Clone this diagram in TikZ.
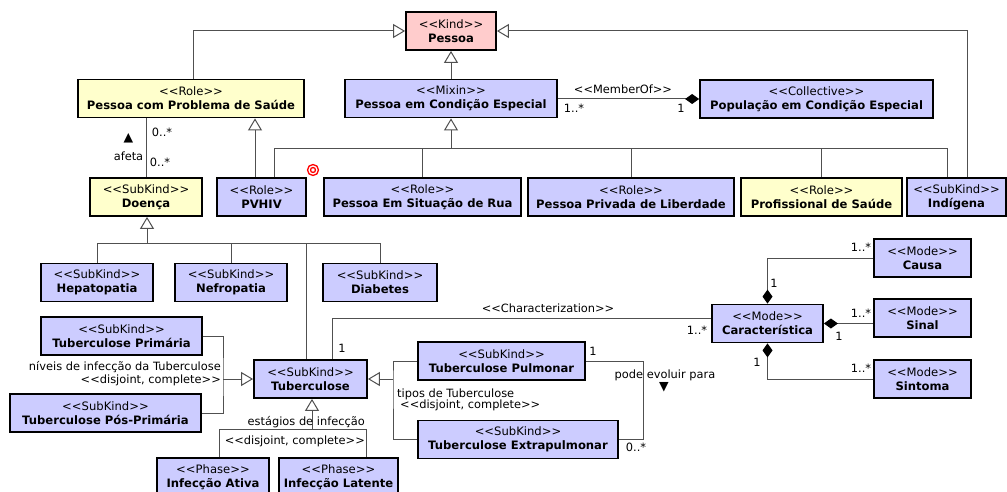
\documentclass[tikz,border=0pt]{standalone}
\usepackage{fontspec}
\setmainfont{DejaVu Sans}
\usetikzlibrary{arrows.meta}
\definecolor{kindpink}{RGB}{255,204,204}
\definecolor{roleyellow}{RGB}{255,255,204}
\definecolor{ufoblue}{RGB}{204,204,255}
\definecolor{linegray}{RGB}{80,80,80}
\newcommand{\stereo}[1]{<{}<#1>{}>}
\newcommand{\boxfont}{\fontsize{11.6}{14}\selectfont}
\newcommand{\lblfont}{\fontsize{11.4}{13}\selectfont}
\tikzset{
  umlbox/.style={draw, line width=1.8pt, align=center, inner sep=0pt,
    minimum height=38pt, font=\boxfont},
  kind/.style={umlbox, fill=kindpink},
  role/.style={umlbox, fill=roleyellow},
  ufo/.style={umlbox, fill=ufoblue},
  assoc/.style={draw=linegray, line width=1pt},
  gen/.style={assoc, -{Triangle[open, length=12pt, width=14pt]}},
  whole/.style={assoc, {Diamond[length=14pt, width=10pt, color=black, fill=black]}-},
  lbl/.style={inner sep=0pt, font=\lblfont},
}

\begin{document}
\begin{tikzpicture}[x=1pt, y=-1pt]
\useasboundingbox (0,0) rectangle (1007,492);
% Pessoa
\node[kind, minimum width=90pt] (pessoa) at (451,31) {\stereo{Kind}\\\textbf{Pessoa}};
% Roles / mixin / collective
\node[role, minimum width=226pt] (saude) at (191,98.5) {\stereo{Role}\\\textbf{Pessoa com Problema de Saúde}};
\node[ufo, minimum width=212pt] (mixin) at (451,98.5) {\stereo{Mixin}\\\textbf{Pessoa em Condição Especial}};
\node[ufo, minimum width=233pt] (colet) at (816.5,99) {\stereo{Collective}\\\textbf{População em Condição Especial}};
% Second row
\node[role, minimum width=112pt] (doenca) at (146,197) {\stereo{SubKind}\\\textbf{Doença}};
\node[ufo, minimum width=89pt] (pvhiv) at (261.5,197) {\stereo{Role}\\\textbf{PVHIV}};
\node[ufo, minimum width=197pt] (rua) at (422.5,197) {\stereo{Role}\\\textbf{Pessoa Em Situação de Rua}};
\node[ufo, minimum width=206pt] (privada) at (631,197) {\stereo{Role}\\\textbf{Pessoa Privada de Liberdade}};
\node[role, minimum width=161pt] (profis) at (821.5,197) {\stereo{Role}\\\textbf{Profissional de Saúde}};
\node[ufo, minimum width=99pt] (indigena) at (956.5,197) {\stereo{SubKind}\\\textbf{Indígena}};
% Doencas
\node[ufo, minimum width=112pt] (hepato) at (97,282.5) {\stereo{SubKind}\\\textbf{Hepatopatia}};
\node[ufo, minimum width=112pt] (nefro) at (231,282.5) {\stereo{SubKind}\\\textbf{Nefropatia}};
\node[ufo, minimum width=114pt] (diab) at (380,282.5) {\stereo{SubKind}\\\textbf{Diabetes}};
% Tuberculose
\node[ufo, minimum width=113pt] (tb) at (310.5,379) {\stereo{SubKind}\\\textbf{Tuberculose}};
\node[ufo, minimum width=161pt] (tbprim) at (121.5,336) {\stereo{SubKind}\\\textbf{Tuberculose Primária}};
\node[ufo, minimum width=191pt] (tbpos) at (105.5,413) {\stereo{SubKind}\\\textbf{Tuberculose Pós-Primária}};
\node[ufo, minimum width=167pt] (pulm) at (501.5,361) {\stereo{SubKind}\\\textbf{Tuberculose Pulmonar}};
\node[ufo, minimum width=200pt] (extra) at (518,439.5) {\stereo{SubKind}\\\textbf{Tuberculose Extrapulmonar}};
\node[ufo, minimum width=112pt] (ativa) at (213,477) {\stereo{Phase}\\\textbf{Infecção Ativa}};
\node[ufo, minimum width=119pt] (latente) at (338.5,477) {\stereo{Phase}\\\textbf{Infecção Latente}};
% Modes
\node[ufo, minimum width=111pt] (carac) at (767.5,323.5) {\stereo{Mode}\\\textbf{Característica}};
\node[ufo, minimum width=97pt] (causa) at (922.5,258) {\stereo{Mode}\\\textbf{Causa}};
\node[ufo, minimum width=97pt] (sinal) at (922.5,318) {\stereo{Mode}\\\textbf{Sinal}};
\node[ufo, minimum width=97pt] (sintoma) at (922.5,379) {\stereo{Mode}\\\textbf{Sintoma}};

% Generalizations to Pessoa
\draw[gen] (193,0 |- saude.north) |- (pessoa.west);
\draw[gen] (967,0 |- indigena.north) |- (pessoa.east);
\draw[gen] (mixin.north) -- (pessoa.south);
\draw[gen] (255,0 |- pvhiv.north) -- (255,0 |- saude.south);
% Mixin set
\coordinate (mixbus) at (451,149);
\draw[gen] (mixbus) -- (mixin.south);
\draw[assoc] (274,0 |- pvhiv.north) |- (947,149) -- (947,0 |- indigena.north);
\draw[assoc] (rua.north) -- (rua.north |- mixbus);
\draw[assoc] (privada.north) -- (privada.north |- mixbus);
\draw[assoc] (profis.north) -- (profis.north |- mixbus);
% MemberOf
\draw[whole] (colet.west) -- (colet.west -| mixin.east);
\node[lbl] (memberof) at (623,89) {\stereo{MemberOf}};
\node[lbl] (memmin) at (574,108) {1..*};
\node[lbl] (memone) at (681,108) {1};
% afeta
\draw[assoc] (doenca.north) -- (doenca.north |- saude.south);
\node[lbl] (afmin1) at (162,132) {0..*};
\node[lbl] (afmin2) at (160,162) {0..*};
\node[lbl] (afeta) at (128.5,156) {afeta};
\node[lbl, font=\fontsize{12.5}{14}\selectfont] (afup) at (128.5,138) {▲};
% validation mark
\draw[red, line width=1.3pt] (313,170) circle (5.5pt) circle (2.5pt);
% Doenca set
\coordinate (doebus) at (147,243);
\draw[gen] (doebus) -- (doebus |- doenca.south);
\draw[assoc] (hepato.north) |- (diab.north |- doebus) -- (diab.north);
\draw[assoc] (nefro.north) -- (nefro.north |- doebus);
\draw[assoc] (306,0 |- tb.north) -- (306,0 |- doebus);
% niveis
\coordinate (nivbus) at (223,379);
\draw[gen] (nivbus) -- (tb.west);
\draw[assoc] (tbprim.east) -| (nivbus) |- (tbpos.east);
\node[lbl, anchor=east, align=right] (niveis) at (221,374) {níveis de infecção da Tuberculose\\\stereo{disjoint, complete}};
% tipos
\coordinate (tipbus) at (393,379);
\draw[gen] (tipbus) -- (tb.east);
\draw[assoc] (pulm.west) -| (tipbus) |- (extra.west);
\node[lbl, anchor=west, align=left] (tipos) at (397,400) {tipos de Tuberculose\\[-2pt]\hspace{3pt}\stereo{disjoint, complete}};
% estagios
\coordinate (estbus) at (312,429);
\draw[gen] (estbus) -- (estbus |- tb.south);
\draw[assoc] (219,0 |- ativa.north) |- (366,429) -- (366,0 |- latente.north);
\node[lbl, anchor=east, align=right] (estagios) at (365,432) {estágios de infecção\\[6pt]\stereo{disjoint, complete}};
% pode evoluir para
\draw[assoc] (pulm.east) -| (643,0 |- extra.east) -- (extra.east);
\node[lbl] (evone) at (593,351) {1};
\node[lbl] (evmany) at (636,447) {0..*};
\node[lbl] (evoluir) at (665,375) {pode evoluir para};
\node[lbl, font=\fontsize{12.5}{14}\selectfont] (evdown) at (664,387) {▼};
% Characterization
\draw[assoc] (332,0 |- tb.north) |- ([yshift=5.5pt]carac.west);
\node[lbl] (charac) at (548,308) {\stereo{Characterization}};
\node[lbl] (chone) at (342,348) {1};
\node[lbl] (chmany) at (697,330) {1..*};
% Modes parts
\draw[whole] (carac.north) |- (causa.west);
\draw[whole] (carac.east) -- (carac.east -| sinal.west);
\draw[whole] (carac.south) |- (sintoma.west);
\node[lbl] (causamany) at (861,247) {1..*};
\node[lbl] (causaone) at (774,283) {1};
\node[lbl] (sinalmany) at (861,313) {1..*};
\node[lbl] (sinalone) at (839,336) {1};
\node[lbl] (sintone) at (757,362) {1};
\node[lbl] (sintmany) at (861,368) {1..*};
\end{tikzpicture}
\end{document}
